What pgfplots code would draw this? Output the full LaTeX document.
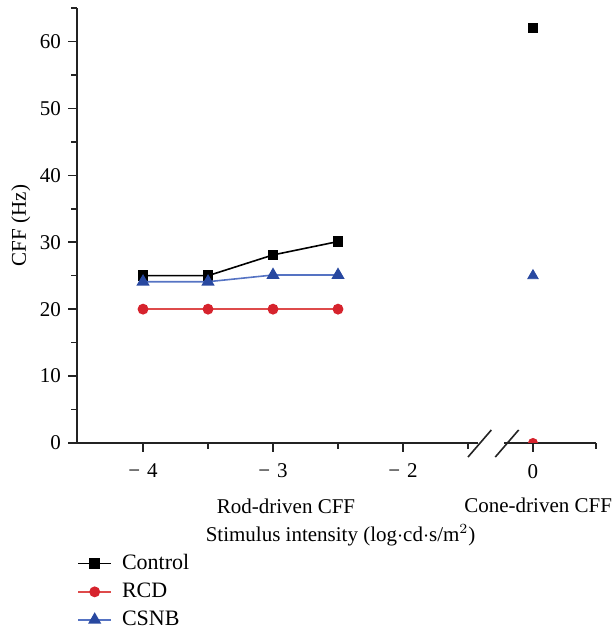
\documentclass[border=0pt]{standalone}
\usepackage{fontspec}
\setmainfont{Liberation Serif}
\usepackage{pgfplots}
\pgfplotsset{compat=1.18}
\definecolor{rcdred}{RGB}{214,35,45}
\definecolor{rcdline}{RGB}{222,75,75}
\definecolor{csnbblue}{RGB}{40,72,160}
\definecolor{csnbline}{RGB}{85,115,195}
\definecolor{axgray}{RGB}{35,35,35}
\begin{document}
\begin{tikzpicture}[font=\fontsize{10.5}{12.5}\selectfont]
\begin{axis}[
  scale only axis, width=259.5pt, height=217.5pt,
  xmin=-4.508, xmax=-0.515, ymin=0, ymax=65,
  axis x line*=bottom, axis y line*=left,
  axis line style={-, line width=0.8pt, axgray},
  xtick={-4,-3,-2,-1}, xticklabels={−\,\,4,−\,\,3,−\,\,2,0},
  minor xtick={-3.5,-2.5,-1.5,-0.515},
  ytick={0,10,...,60}, minor ytick={5,15,...,65},
  tick align=outside, major tick length=4.5pt, minor tick length=3pt,
  tick style={line width=0.8pt, axgray},
  xticklabel style={yshift=-2.5pt},
  /pgf/number format/assume math mode=true,
  ylabel={CFF (Hz)},
  ylabel style={at={(axis description cs:-0.108,0.5)}, anchor=center},
  clip marker paths=true,
  legend image code/.code={%
    \draw[#1, mark repeat=2, mark phase=2] plot coordinates {(0pt,0pt) (8.25pt,0pt) (16.5pt,0pt)};},
  legend style={at={(rel axis cs:0,0)}, anchor=north west, xshift=-3pt, yshift=-51.5pt,
    draw=none, fill=none, font=\fontsize{11}{13}\selectfont, row sep=1.2pt, column sep=3pt,
    cells={anchor=west}},
]
\addplot[black, line width=0.8pt, mark=square*, mark size=2.3pt, mark options={solid}]
  coordinates {(-4,25) (-3.5,25) (-3,28.1) (-2.5,30.1)};
\addlegendentry{Control}
\addplot[rcdline, line width=0.8pt, mark=*, mark size=2.3pt, mark options={solid, fill=rcdred, draw=rcdred}]
  coordinates {(-4,20) (-3.5,20) (-3,20) (-2.5,20)};
\addlegendentry{RCD}
\addplot[csnbline, line width=0.8pt, mark=triangle*, mark size=3pt, mark options={solid, fill=csnbblue, draw=csnbblue}]
  coordinates {(-4,24.1) (-3.5,24.1) (-3,25.1) (-2.5,25.1)};
\addlegendentry{CSNB}
% cone-driven CFF (plotted at the position of the "0" tick after the axis break)
\addplot[forget plot, only marks, mark=square*, mark size=2.3pt, black]
  coordinates {(-1,62)};
\addplot[forget plot, only marks, mark=*, mark size=2.3pt, rcdred]
  coordinates {(-1,0)};
\addplot[forget plot, only marks, mark=triangle*, mark size=3pt, csnbblue]
  coordinates {(-1,25)};
\coordinate (LL) at (rel axis cs:0,0);
\coordinate (UR) at (rel axis cs:1,1);
\coordinate (g1) at (axis cs:-1.42,0);
\coordinate (g2) at (axis cs:-1.22,0);
\coordinate (s1a) at (axis cs:-1.50,-2.1);
\coordinate (s1b) at (axis cs:-1.32,1.95);
\coordinate (s2a) at (axis cs:-1.29,-2.1);
\coordinate (s2b) at (axis cs:-1.11,1.95);
\coordinate (rod) at (axis cs:-2.9,0);
\coordinate (cone) at (axis cs:-0.96,0);
\coordinate (stim) at (axis cs:-2.48,0);
\end{axis}
\fill[white] ([yshift=-1.5pt]g1) rectangle ([yshift=1.5pt]g2);
\draw[line width=0.8pt, axgray] (s1a) -- (s1b);
\draw[line width=0.8pt, axgray] (s2a) -- (s2b);
\node[anchor=center] at ([yshift=-31.5pt]rod) {Rod-driven CFF};
\node[anchor=center] at ([yshift=-31pt]cone) {Cone-driven CFF};
\node[anchor=center] at ([yshift=-46pt]stim) {Stimulus intensity (log$\cdot$cd$\cdot$s/m$^2$)};
\pgfresetboundingbox
\path[use as bounding box] ([shift={(-38.5pt,-92.5pt)}]LL) rectangle ([shift={(7.5pt,4pt)}]UR);
\end{tikzpicture}
\end{document}
